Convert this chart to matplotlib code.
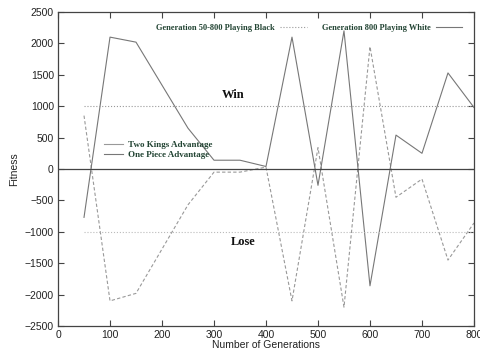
import numpy as np
import matplotlib.pyplot as plt
from matplotlib.lines import Line2D

generations = [50, 100, 150, 250, 300, 350, 400, 450, 500, 550, 600, 650, 700, 750, 800]
black = [850, -2100, -1980, -570, -50, -50, 30, -2100, 340, -2200, 1950, -450, -160, -1450, -860]
white = [-770, 2100, 2020, 650, 140, 140, 40, 2100, -260, 2200, -1860, 540, 250, 1530, 980]
win_level = 1000
lose_level = -1000

serif = {'family': 'Liberation Serif', 'weight': 'bold'}

fig = plt.figure(figsize=(4.81, 3.51), dpi=100)
ax = fig.add_axes([0.1206, 0.0712, 0.8648, 0.8946])

ax.plot(generations, black, '--', color='#999999', lw=0.8, dashes=(3, 2))
ax.plot(generations, white, '-', color='#777777', lw=0.8)
ax.axhline(0, color='#444444', lw=0.9)
ax.plot([generations[0], generations[-1]], [win_level, win_level], ':', color='#999999', lw=0.8)
ax.plot([generations[0], generations[-1]], [lose_level, lose_level], ':', color='#bbbbbb', lw=0.8)

ax.text(337, 1180, 'Win', ha='center', va='center', fontsize=9, color='#111111', **serif)
ax.text(356, -1160, 'Lose', ha='center', va='center', fontsize=9, color='#111111', **serif)

ax.set_xlim(0, 800)
ax.set_ylim(-2500, 2500)
ax.set_xticks(np.arange(0, 801, 100))
ax.set_yticks(np.arange(-2500, 2501, 500))
ax.tick_params(direction='in', length=4, width=0.8, color='#444444', top=True, right=True,
               labelsize=7.5, labelcolor='#222222', pad=3)
for lbl in ax.get_xticklabels() + ax.get_yticklabels():
    lbl.set_family('Liberation Sans')
for s in ax.spines.values():
    s.set_color('#444444')
    s.set_linewidth(0.9)

ax.set_xlabel('Number of Generations', fontsize=7.5, family='Liberation Sans', labelpad=0, color='#222222')
ax.set_ylabel('Fitness', fontsize=7.5, family='Liberation Sans', labelpad=4, color='#222222')

top_handles = [Line2D([], [], ls=':', color='#999999', lw=0.8),
               Line2D([], [], ls='-', color='#777777', lw=0.8)]
leg1 = ax.legend(top_handles, ['Generation 50-800 Playing Black', 'Generation 800 Playing White'],
                 loc='upper right', ncol=2, frameon=False, markerfirst=False,
                 prop={'family': 'Liberation Serif', 'weight': 'bold', 'size': 6},
                 handlelength=3.2, columnspacing=1.8, handletextpad=0.6,
                 bbox_to_anchor=(0.99, 0.985), labelcolor='#224433')
ax.add_artist(leg1)

adv_handles = [Line2D([], [], ls='-', color='#999999', lw=0.8),
               Line2D([], [], ls='-', color='#777777', lw=0.8)]
ax.legend(adv_handles, ['Two Kings Advantage', 'One Piece Advantage'],
          loc='upper left', frameon=False,
          prop={'family': 'Liberation Serif', 'weight': 'bold', 'size': 6.5},
          handlelength=2.2, handletextpad=0.5, labelspacing=0.2,
          bbox_to_anchor=(0.09, 0.615), labelcolor='#224433')

plt.savefig('out.png', dpi=100)
